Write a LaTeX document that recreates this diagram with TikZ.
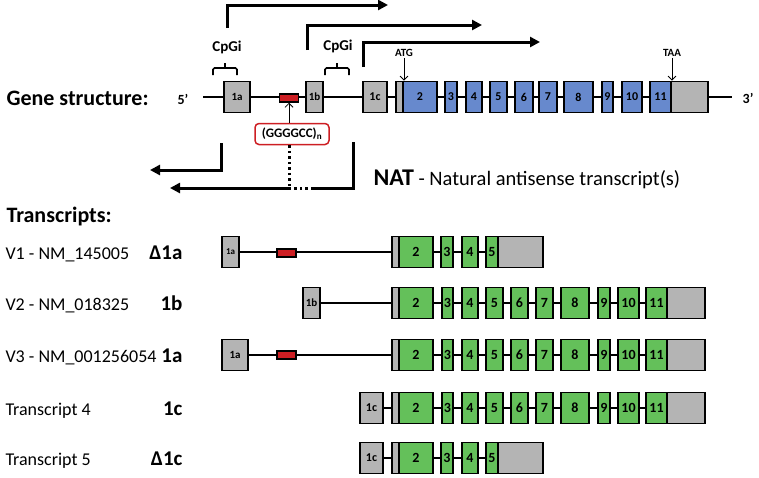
\documentclass[tikz,border=0pt]{standalone}
\usepackage{fontspec}
\setmainfont{Carlito}
\usetikzlibrary{arrows.meta,backgrounds}
\definecolor{exonblue}{RGB}{103,137,205}
\definecolor{exongreen}{RGB}{100,192,90}
\definecolor{utrgray}{RGB}{180,180,180}
\definecolor{cagred}{RGB}{205,30,35}
\newcommand{\fsz}[1]{\fontsize{#1}{#1}\selectfont}
\begin{document}
\begin{tikzpicture}[x=1pt, y=-1pt,
  exon/.style={draw, line width=1.8pt, minimum height=31pt, inner sep=0pt, font=\bfseries\fsz{14}},
  utr/.style={exon, fill=utrgray},
  intron/.style={line width=1.5pt},
  repeatbox/.style={draw, line width=1.5pt, fill=cagred, minimum width=19pt, minimum height=8pt, inner sep=0pt},
  promoter/.style={line width=3pt, -{Triangle[length=10pt,width=10pt]}},
  pointer/.style={line width=0.8pt, -{Straight Barb[length=4pt,width=8pt]}},
  natdots/.style={line width=3pt, dash pattern=on 2.5pt off 3pt},
  cpg/.style={line width=1.6pt, rounded corners=1.5pt},
  heading/.style={font=\bfseries\fsz{22}, anchor=base west},
  rowlabel/.style={font=\fsz{18}, anchor=base west},
  variant/.style={font=\bfseries\fsz{21}, anchor=base east}]
\useasboundingbox (0,0) rectangle (759,477);

% Gene structure
\node[heading] (genetitle) at (3,105) {Gene structure:};
\node[font=\bfseries\fsz{14}] (five) at (183,99) {5’};
\node[font=\bfseries\fsz{14}] (three) at (748,98) {3’};
\coordinate (gstart) at (203,97);
\coordinate (gend) at (732,97);
\begin{scope}[exon/.append style={font=\bfseries\fsz{12}}]
\node[utr, minimum width=26pt, font=\bfseries\fsz{11}] (g1a) at (237,97) {1a};
\node[repeatbox] (grep) at (289,98) {};
\node[utr, minimum width=17pt, font=\bfseries\fsz{11}] (g1b) at (314.5,97) {1b};
\node[utr, minimum width=24pt] (g1c) at (375,97) {1c};
\node[utr, minimum width=7pt] (g2u) at (399.5,97) {};
\foreach \n/\a/\b in {2/403/437, 3/445/457, 4/466/482, 5/490/507, 6/515/533, 7/539/557, 8/564/593, 9/602/613, 10/622/642, 11/650/671}
  \node[exon, fill=exonblue, minimum width={\b-\a}] (g\n) at ({(\a+\b)/2},97) {\n};
\node[utr, minimum width=37pt] (gutr) at (689.5,97) {};
\end{scope}

% Promoters and CpG islands
\coordinate (p1a) at (227,28); \coordinate (p1atip) at (388,5);
\coordinate (p1b) at (307,50); \coordinate (p1btip) at (482,25);
\coordinate (p1c) at (363,67); \coordinate (p1ctip) at (540,42);
\draw[promoter] (p1a) |- (p1atip);
\draw[promoter] (p1b) |- (p1btip);
\draw[promoter] (p1c) |- (p1ctip);
\draw[cpg] (213,75) -- (213,68) -- (237,68) -- (237,75) (225,68) -- (225,63);
\draw[cpg] (325,75) -- (325,68) -- (349,68) -- (349,75) (337,68) -- (337,63);
\node[font=\bfseries\fsz{15}, anchor=base] (cpg1) at (227,51) {CpGi};
\node[font=\bfseries\fsz{15}, anchor=base] (cpg2) at (338,50) {CpGi};

% Start and stop codons
\node[font=\bfseries\fsz{11}, anchor=base, inner sep=1pt] (atg) at (404,56.5) {ATG};
\node[font=\bfseries\fsz{11}, anchor=base, inner sep=1pt] (taa) at (672,56.5) {TAA};
\draw[pointer] (atg.south) -- (atg.south |- g2.north);
\draw[pointer] (taa.south) -- (taa.south |- g11.north);

% Repeat expansion
\node[draw=cagred, line width=1.5pt, rounded corners=4pt, minimum width=74pt, minimum height=21pt, inner sep=0pt, font=\bfseries\fsz{13}] (ggc) at (292,134) {(GGGGCC)\textsubscript{n}};
\draw[pointer] (grep.south |- ggc.north) -- (grep.south);

% Antisense transcripts
\coordinate (nat1) at (221,143); \coordinate (nat1tip) at (150,170);
\coordinate (nat2) at (353,142); \coordinate (nat2gap) at (313,188);
\coordinate (nat2dot) at (289,188); \coordinate (nat2tip) at (170,188);
\draw[promoter] (nat1) |- (nat1tip);
\draw[line width=3pt] (nat2) |- (nat2gap);
\draw[natdots] (nat2gap) -- (nat2dot);
\draw[promoter] (nat2dot) -- (nat2tip);
\draw[natdots] (ggc.south -| nat2dot) -- (nat2dot);
\node[anchor=base west, font=\fsz{20.5}] (nat) at (370,185) {{\bfseries\fsz{24}NAT} - Natural antisense transcript(s)};

% Transcripts
\node[heading] (trtitle) at (3,222) {Transcripts:};
\foreach \r/\y/\name/\var in {v1/252/V1 - NM\_145005/Δ1a, v2/303/V2 - NM\_018325/1b, v3/355/V3 - NM\_001256054/1a, t4/408/Transcript 4/1c, t5/458/Transcript 5/Δ1c} {
  \node[rowlabel] (\r-lab) at (2,\y+7.5) {\name};
  \node[variant] (\r-var) at (186,\y+7.5) {\var};
}
\foreach \r/\y in {v2/303, v3/355, t4/408} {
  \node[utr, minimum width=7pt] (\r-2u) at (395.5,\y) {};
  \foreach \n/\a/\b in {2/399/433, 3/442/453, 4/462/478, 5/486/503, 6/511/528, 7/536/553, 8/561/589, 9/598/610, 10/618/639, 11/646/667}
    \node[exon, fill=exongreen, minimum width={\b-\a}] (\r-\n) at ({(\a+\b)/2},\y) {\n};
  \node[utr, minimum width=38pt] (\r-end) at (686,\y) {};
}
\foreach \r/\y in {v1/252, t5/458} {
  \node[utr, minimum width=7pt] (\r-2u) at (395.5,\y) {};
  \foreach \n/\a/\b in {2/399/433, 3/441/453, 4/462/478, 5/486/498}
    \node[exon, fill=exongreen, minimum width={\b-\a}] (\r-\n) at ({(\a+\b)/2},\y) {\n};
  \node[utr, minimum width=45pt] (\r-end) at (520.5,\y) {};
}
\node[utr, minimum width=17pt, font=\bfseries\fsz{9}] (v1-1a) at (230.5,252) {1a};
\node[repeatbox] (v1-rep) at (286.5,253) {};
\node[utr, minimum width=17pt, font=\bfseries\fsz{11}] (v2-1b) at (311.5,303) {1b};
\node[utr, minimum width=26pt, font=\bfseries\fsz{11}] (v3-1a) at (235,355) {1a};
\node[repeatbox] (v3-rep) at (286.5,355) {};
\node[utr, minimum width=23pt, font=\bfseries\fsz{12}] (t4-1c) at (371.5,408) {1c};
\node[utr, minimum width=23pt, font=\bfseries\fsz{12}] (t5-1c) at (371.5,458) {1c};

% Introns behind the exons
\begin{scope}[on background layer]
\draw[intron] (gstart) -- (gend);
\foreach \r/\s in {v1/1a, v2/1b, v3/1a, t4/1c, t5/1c}
  \draw[intron] (\r-\s) -- (\r-end);
\end{scope}
\end{tikzpicture}
\end{document}
